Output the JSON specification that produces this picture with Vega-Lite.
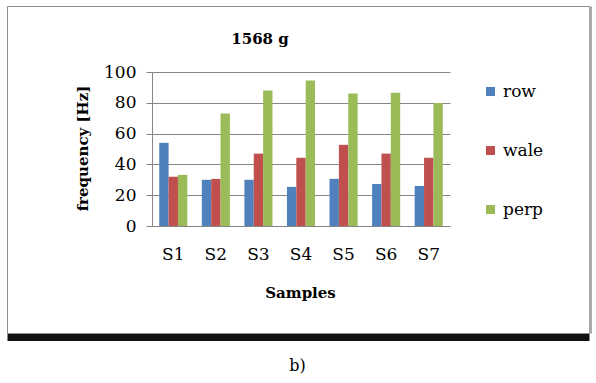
{
  "$schema": "https://vega.github.io/schema/vega-lite/v6.json",
  "width": 582,
  "height": 327,
  "autosize": {"type": "none"},
  "padding": {"left": 7, "top": 6, "right": 7, "bottom": 50},
  "background": "white",
  "config": {
    "font": "DejaVu Serif",
    "view": {"stroke": "#8c8c8c", "strokeWidth": 1}
  },
  "title": {
    "text": "1568 g",
    "anchor": "middle",
    "frame": "group",
    "dx": -38,
    "dy": 53,
    "offset": 0,
    "baseline": "alphabetic",
    "fontSize": 15,
    "fontWeight": "bold",
    "color": "black",
    "font": "DejaVu Serif"
  },
  "data": {
    "values": [
      {"sample": "S1", "series": "row", "frequency": 54},
      {"sample": "S1", "series": "wale", "frequency": 32},
      {"sample": "S1", "series": "perp", "frequency": 33.2},
      {"sample": "S2", "series": "row", "frequency": 30},
      {"sample": "S2", "series": "wale", "frequency": 30.6},
      {"sample": "S2", "series": "perp", "frequency": 73},
      {"sample": "S3", "series": "row", "frequency": 30},
      {"sample": "S3", "series": "wale", "frequency": 47},
      {"sample": "S3", "series": "perp", "frequency": 88},
      {"sample": "S4", "series": "row", "frequency": 25.4},
      {"sample": "S4", "series": "wale", "frequency": 44.3},
      {"sample": "S4", "series": "perp", "frequency": 94.4},
      {"sample": "S5", "series": "row", "frequency": 30.6},
      {"sample": "S5", "series": "wale", "frequency": 52.7},
      {"sample": "S5", "series": "perp", "frequency": 86},
      {"sample": "S6", "series": "row", "frequency": 27.3},
      {"sample": "S6", "series": "wale", "frequency": 47},
      {"sample": "S6", "series": "perp", "frequency": 86.6},
      {"sample": "S7", "series": "row", "frequency": 26},
      {"sample": "S7", "series": "wale", "frequency": 44.3},
      {"sample": "S7", "series": "perp", "frequency": 79.8}
    ]
  },
  "layer": [
    {
      "mark": {"type": "bar"},
      "encoding": {
        "x": {
          "field": "sample",
          "type": "nominal",
          "scale": {
            "domain": ["S1", "S2", "S3", "S4", "S5", "S6", "S7"],
            "range": [145, 443],
            "paddingInner": 0.34,
            "paddingOuter": 0.17
          },
          "axis": {
            "orient": "bottom",
            "offset": -107,
            "title": "Samples",
            "labelAngle": 0,
            "ticks": false,
            "grid": false,
            "labelPadding": 20,
            "labelFontSize": 17,
            "labelColor": "black",
            "domainColor": "#868686",
            "titleFontSize": 15,
            "titleFontWeight": "bold",
            "titleColor": "black",
            "titleX": 293,
            "titleY": 71,
            "titleBaseline": "alphabetic"
          }
        },
        "xOffset": {
          "field": "series",
          "type": "nominal",
          "sort": ["row", "wale", "perp"],
          "scale": {"paddingInner": 0, "paddingOuter": 0}
        },
        "y": {
          "field": "frequency",
          "type": "quantitative",
          "scale": {"domain": [0, 100], "range": [220, 66], "nice": false},
          "axis": {
            "orient": "left",
            "offset": -145,
            "values": [0, 20, 40, 60, 80, 100],
            "tickSize": 6,
            "tickColor": "#868686",
            "domainColor": "#868686",
            "grid": true,
            "gridColor": "#868686",
            "gridOpacity": 1,
            "labelPadding": 10,
            "labelFontSize": 17,
            "labelColor": "black",
            "title": "frequency [Hz]",
            "titleFontSize": 15,
            "titleFontWeight": "bold",
            "titleColor": "black",
            "titleX": -70,
            "titleY": 142,
            "titleAngle": -90,
            "titleAlign": "center",
            "titleBaseline": "middle"
          }
        },
        "color": {
          "field": "series",
          "type": "nominal",
          "scale": {
            "domain": ["row", "wale", "perp"],
            "range": ["#4F81BD", "#C0504D", "#9BBB59"]
          },
          "legend": {
            "title": null,
            "orient": "none",
            "legendX": 475,
            "legendY": 77,
            "symbolType": "square",
            "symbolSize": 81,
            "symbolStrokeWidth": 0,
            "labelFontSize": 17,
            "labelColor": "black",
            "labelOffset": 4,
            "rowPadding": 41,
            "padding": 0
          }
        }
      }
    },
    {
      "mark": {"type": "point", "opacity": 0},
      "encoding": {
        "x": {
          "field": "sample",
          "type": "nominal",
          "axis": {
            "orient": "bottom",
            "offset": 4,
            "labels": false,
            "ticks": false,
            "grid": false,
            "domainColor": "#111111",
            "domainWidth": 7,
            "title": "b)",
            "titleFontSize": 16,
            "titleFontWeight": "normal",
            "titleColor": "black",
            "titleX": 290,
            "titleY": 33,
            "titleBaseline": "alphabetic"
          }
        },
        "y": {
          "field": "frequency",
          "type": "quantitative",
          "axis": {
            "orient": "right",
            "offset": 1,
            "labels": false,
            "ticks": false,
            "grid": false,
            "domainColor": "#aaaaaa",
            "domainWidth": 3,
            "title": null
          }
        }
      }
    }
  ],
  "resolve": {
    "scale": {"x": "independent", "y": "independent"},
    "axis": {"x": "independent", "y": "independent"}
  }
}
